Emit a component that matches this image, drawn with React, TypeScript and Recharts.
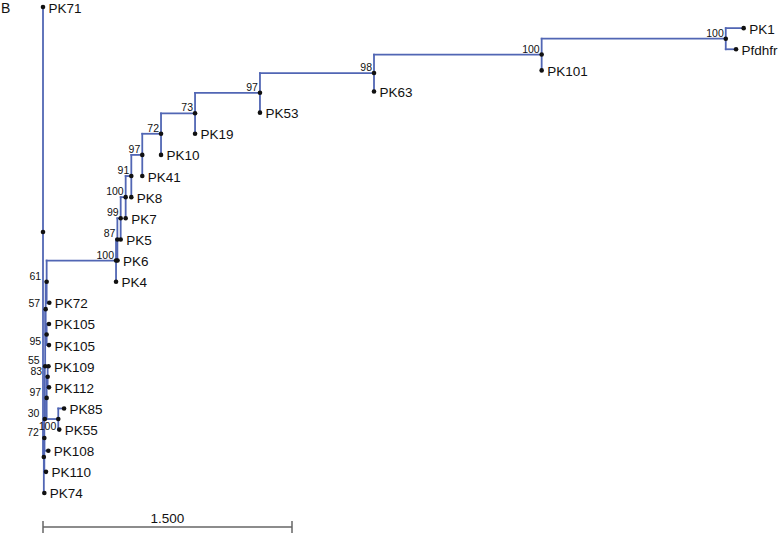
import React from 'react';
import { ComposedChart, XAxis, YAxis, Scatter, ReferenceLine } from 'recharts';

// Tree nodes (index = node id). Depth in substitution units, row = vertical slot (leaves 0..23).
const names = [
  '', 'PK71', '', 'PK74', '', 'PK110', 'PK108', '', '', '', '', 'PK109', 'PK112', '', 'PK85', 'PK55',
  '', '', 'PK105', 'PK105', '', 'PK72', '', 'PK4', '', 'PK6', '', 'PK5', '', 'PK7', '', 'PK8', '',
  'PK41', '', 'PK10', '', 'PK19', '', 'PK53', '', 'PK63', '', 'PK101', '', 'PK1', 'Pfdhfr',
];
const parents = [
  -1, 0, 0, 2, 2, 4, 4, 4, 7, 7, 9, 10, 10, 9, 13, 13,
  8, 16, 17, 17, 16, 20, 20, 22, 22, 24, 24, 26, 26, 28, 28, 30, 30,
  32, 32, 34, 34, 36, 36, 38, 38, 40, 40, 42, 42, 44, 44,
];
const depths = [
  0, 0, 0.005, 0.008, 0.008, 0.018, 0.032, 0.011, 0.013, 0.022, 0.028, 0.033, 0.036, 0.092, 0.127, 0.098,
  0.016, 0.022, 0.036, 0.036, 0.022, 0.038, 0.44, 0.44, 0.448, 0.449, 0.468, 0.468, 0.498, 0.498, 0.532, 0.532, 0.598,
  0.598, 0.711, 0.711, 0.916, 0.916, 1.307, 1.307, 1.994, 1.994, 3.004, 3.004, 4.113, 4.221, 4.175,
];
const rows = [
  10.65, 0, 21.3, 23, 20.4, 22, 21, 19.5, 17, 18.5, 17.5, 17, 18, 19.5, 19, 20,
  14.3, 15.5, 15, 16, 13, 14, 12, 13, 11, 12, 10, 11, 9, 10, 8, 9, 7,
  8, 6, 7, 5.03, 6, 4.06, 5, 3.125, 4, 2.25, 3, 1.5, 1, 2,
];
const support = [
  '', '', '', '', '72', '', '', '30', '55', '97', '83', '', '', '100', '', '',
  '57', '95', '', '', '61', '', '100', '', '87', '', '99', '', '100', '', '91', '', '97',
  '', '72', '', '73', '', '97', '', '98', '', '100', '', '100', '', '',
];
// nodes whose support value is printed under the branch instead of above it
const supportBelow = [13, 17];

const scaleBarValue = 1.5;
const scaleBarLabel = '1.500';

const W = 778;
const H = 533;
const PX_PER_UNIT = 166;
const ROOT_PX = 43;
const ROW_PX = 21.13;
const TOP_PX = 7;
const X_DOMAIN: [number, number] = [-ROOT_PX / PX_PER_UNIT, (W - ROOT_PX) / PX_PER_UNIT];
const Y_DOMAIN: [number, number] = [-TOP_PX / ROW_PX, (H - TOP_PX) / ROW_PX];
const rowOfPx = (px: number) => (px - TOP_PX) / ROW_PX;
const TRUNK_DEPTH = 0.03;

const BLUE = '#5166b4';
const FONT = '"Liberation Sans", Arial, Helvetica, sans-serif';

const isLeaf = (i: number) => !parents.includes(i);

const nodes = names.map((name, i) => ({
  id: i,
  name,
  x: depths[i],
  row: rows[i],
  leaf: isLeaf(i),
  support: support[i],
  below: supportBelow.includes(i),
  trunk: depths[i] < TRUNK_DEPTH,
}));

type Seg = { x1: number; y1: number; x2: number; y2: number };
const segments: Seg[] = [];
nodes.forEach((n) => {
  const p = parents[n.id];
  if (p < 0) return;
  const pn = nodes[p];
  if (pn.row !== n.row) segments.push({ x1: pn.x, y1: pn.row, x2: pn.x, y2: n.row });
  if (pn.x !== n.x) segments.push({ x1: pn.x, y1: n.row, x2: n.x, y2: n.row });
});

const NodeShape = (props: any) => {
  const { cx, cy, payload } = props;
  if (cx == null || cy == null) return null;
  return (
    <g>
      <circle cx={cx} cy={cy} r={2.3} fill="#111" />
      {payload.leaf && payload.name ? (
        <text x={cx + 5.5} y={cy + 1} dominantBaseline="central" fontSize={13.5} fontFamily={FONT} fill="#111">
          {payload.name}
        </text>
      ) : null}
      {payload.support ? (
        <text
          x={cx - (payload.trunk ? 5.5 : 2)}
          y={payload.below ? cy + 6.5 : cy - 6}
          textAnchor="end"
          dominantBaseline="central"
          fontSize={10.5}
          fontFamily={FONT}
          fill="#111"
        >
          {payload.support}
        </text>
      ) : null}
    </g>
  );
};

export default function App() {
  const barRow = rowOfPx(527);
  const tickTop = rowOfPx(521);
  const tickBottom = rowOfPx(533);
  return (
    <div style={{ position: 'absolute', left: 0, top: 0, width: W, height: H, background: '#fff' }}>
      <div style={{ position: 'absolute', left: 1, top: 0, fontSize: 14, lineHeight: '16px', fontFamily: FONT, color: '#111' }}>B</div>
      <ComposedChart width={W} height={H} margin={{ top: 0, right: 0, bottom: 0, left: 0 }}>
        <XAxis type="number" dataKey="x" domain={X_DOMAIN} hide allowDataOverflow />
        <YAxis type="number" dataKey="row" domain={Y_DOMAIN} reversed hide allowDataOverflow />
        {segments.map((s, i) => (
          <ReferenceLine
            key={i}
            segment={[{ x: s.x1, y: s.y1 }, { x: s.x2, y: s.y2 }]}
            stroke={BLUE}
            strokeWidth={1.8}
            strokeLinecap="square"
            ifOverflow="visible"
          />
        ))}
        <ReferenceLine
          segment={[{ x: 0, y: barRow }, { x: scaleBarValue, y: barRow }]}
          stroke="#666"
          strokeWidth={1.5}
          ifOverflow="visible"
          label={{ value: scaleBarLabel, position: 'top', offset: 4, fontSize: 13.5, fill: '#111', fontFamily: FONT }}
        />
        <ReferenceLine segment={[{ x: 0, y: tickTop }, { x: 0, y: tickBottom }]} stroke="#666" strokeWidth={1.5} ifOverflow="visible" />
        <ReferenceLine segment={[{ x: scaleBarValue, y: tickTop }, { x: scaleBarValue, y: tickBottom }]} stroke="#666" strokeWidth={1.5} ifOverflow="visible" />
        <Scatter data={nodes} dataKey="row" shape={NodeShape} isAnimationActive={false} />
      </ComposedChart>
    </div>
  );
}
